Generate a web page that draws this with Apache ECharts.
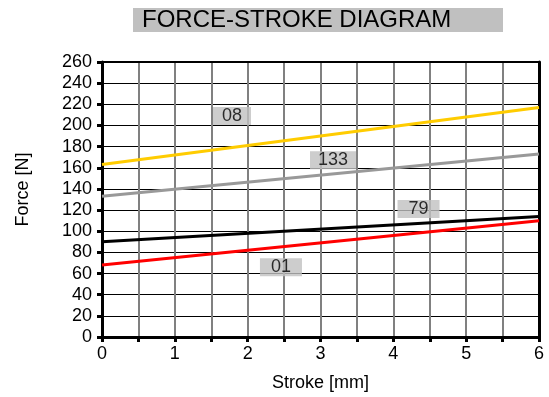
<!DOCTYPE html>
<html><head><meta charset="utf-8">
<script src="https://cdn.jsdelivr.net/npm/echarts@6/dist/echarts.min.js"></script>
<style>html,body{margin:0;padding:0;background:#fff}#c{width:549px;height:397px}</style>
</head><body><div id="c"></div>
<script>
const strokeX = [0, 6];
const force08 = [163, 217];
const force133 = [133, 173];
const force79 = [90, 114];
const force01 = [68, 110];
const seriesNames = ['08', '133', '79', '01'];
const seriesColors = ['#ffcc00', '#999999', '#000000', '#ff0000'];
const labelPos = [[1.785, 209], [3.172, 167], [4.346, 121], [2.457, 66]];
const labelPad = [9, 8, 11, 11];
const yTicks = [0, 260, 20];
const xTicks = [0, 6, 1];

const font = 'Liberation Sans, Arial, sans-serif';
const chart = echarts.init(document.getElementById('c'), null, {renderer: 'canvas'});
const lines = [force08, force133, force79, force01].map((vals, i) => ({
  type: 'line', name: seriesNames[i], data: strokeX.map((x, j) => [x, vals[j]]),
  showSymbol: false, lineStyle: {color: seriesColors[i], width: 3}, z: 5, animation: false
}));
const labels = {
  type: 'scatter', symbolSize: 0, z: 10, animation: false,
  data: labelPos.map((p, i) => ({value: p, name: seriesNames[i],
    label: {padding: [1, labelPad[i], 0, labelPad[i]]}})),
  label: {show: true, position: 'inside', formatter: p => p.name, color: '#000',
    fontFamily: font, fontSize: 18, lineHeight: 17, backgroundColor: '#c0c0c0'}
};
chart.setOption({
  animation: false,
  title: {text: 'FORCE-STROKE DIAGRAM', left: 133, top: 8,
    textStyle: {fontFamily: font, fontSize: 24, fontWeight: 'normal', color: '#000', width: 361, lineHeight: 24},
    backgroundColor: '#c0c0c0', padding: [0, 0, 0, 9]},
  grid: {left: 102, right: 10, top: 62, bottom: 58},
  xAxis: [{
    type: 'value', min: xTicks[0], max: xTicks[1], interval: 0.5,
    name: 'Stroke [mm]', nameLocation: 'middle', nameGap: 37,
    nameTextStyle: {fontFamily: font, fontSize: 18, color: '#000'},
    axisLine: {lineStyle: {color: '#000', width: 3}},
    axisTick: {show: true, length: 5, lineStyle: {color: '#000', width: 3}},
    axisLabel: {fontFamily: font, fontSize: 18, color: '#000', margin: 8,
      formatter: v => Number.isInteger(v) ? String(v) : ''},
    splitLine: {show: true, lineStyle: {color: '#808080', width: 2}}
  }, {
    type: 'value', position: 'top', min: xTicks[0], max: xTicks[1], interval: 0.5,
    axisLine: {show: true, onZero: false, lineStyle: {color: '#000', width: 2}},
    axisTick: {show: false}, axisLabel: {show: false}, splitLine: {show: false}
  }],
  yAxis: [{
    type: 'value', min: yTicks[0], max: yTicks[1], interval: yTicks[2],
    name: 'Force [N]', nameLocation: 'middle', nameGap: 70, nameRotate: 90,
    nameTextStyle: {fontFamily: font, fontSize: 18, color: '#000', padding: [0, 0, 0, 20]},
    axisLine: {lineStyle: {color: '#000', width: 3}},
    axisTick: {show: true, length: 5, lineStyle: {color: '#000', width: 3}},
    axisLabel: {fontFamily: font, fontSize: 18, color: '#000', margin: 10},
    splitLine: {show: true, lineStyle: {color: '#000', width: 1}}
  }, {
    type: 'value', position: 'right', min: yTicks[0], max: yTicks[1], interval: yTicks[2],
    axisLine: {show: true, onZero: false, lineStyle: {color: '#000', width: 3}},
    axisTick: {show: false}, axisLabel: {show: false}, splitLine: {show: false}
  }],
  series: [...lines, labels]
});
</script></body></html>
